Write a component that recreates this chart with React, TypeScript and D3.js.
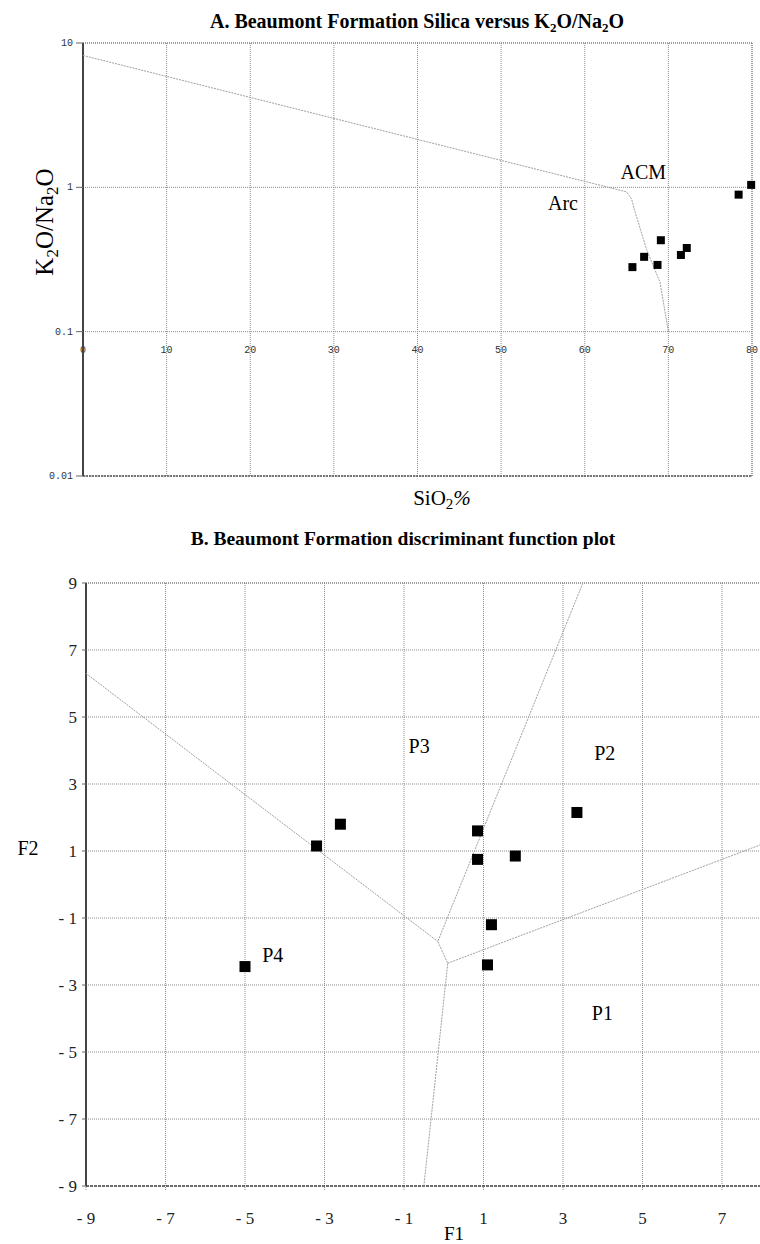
import React from 'react';
import * as d3 from 'd3';

// A. silica vs K2O/Na2O
const sio2 = [65.7, 67.1, 69.1, 68.7, 71.5, 72.2, 78.4, 79.9];
const k2oNa2o = [0.28, 0.33, 0.43, 0.29, 0.34, 0.38, 0.89, 1.04];
const arcAcmLine = [[0, 8.2], [65, 0.93], [65.6, 0.83], [66, 0.68], [67.4, 0.37], [69, 0.22], [70, 0.1]];
const silicaTicks = [0, 10, 20, 30, 40, 50, 60, 70, 80];
const ratioTicks = [10, 1, 0.1, 0.01];
const ratioTickLabels = ['10', '1', '0.1', '0.01'];
const fieldsA = [
  { name: 'ACM', x: 67, y: 1.14 },
  { name: 'Arc', x: 57.4, y: 0.7 },
];

// B. discriminant function plot
const f1 = [-5.0, -3.2, -2.6, 0.85, 0.85, 1.8, 1.2, 1.1, 3.35];
const f2 = [-2.45, 1.15, 1.8, 1.6, 0.75, 0.85, -1.2, -2.4, 2.15];
const p2p3Line = [[3.5, 9], [-0.15, -1.7], [0.1, -2.35], [-0.5, -9]];
const p3p4Line = [[-9, 6.3], [-0.15, -1.7]];
const p1p2Line = [[0.1, -2.35], [8, 1.2]];
const fTicks = [-9, -7, -5, -3, -1, 1, 3, 5, 7, 9];
const fieldsB = [
  { name: 'P3', x: -0.62, y: 3.93 },
  { name: 'P2', x: 4.05, y: 3.72 },
  { name: 'P1', x: 3.99, y: -4.04 },
  { name: 'P4', x: -4.3, y: -2.31 },
];

const serif = '"Liberation Serif", "Times New Roman", serif';
const mono = '"Liberation Mono", "Courier New", monospace';
const gridStyle = { stroke: '#8c8c8c', strokeWidth: 1, strokeDasharray: '1 1', fill: 'none' };
const lineStyle = { stroke: '#a0a0a0', strokeWidth: 1, strokeDasharray: '2 1', fill: 'none' };

const fmt = (t: number) => (t < 0 ? '- ' + Math.abs(t) : String(t));

export default function App() {
  // chart A scales
  const xA = d3.scaleLinear().domain([0, 80]).range([83, 752]);
  const yA = d3.scaleLog().domain([0.01, 10]).range([476, 43]);
  const lineA = d3.line<number[]>().x(d => xA(d[0])).y(d => yA(d[1]));

  // chart B scales (right part runs off the page, as in the scan)
  const xB = d3.scaleLinear().domain([-9, 9]).range([86, 801.5]);
  const yB = d3.scaleLinear().domain([-9, 9]).range([1186, 583]);
  const lineB = d3.line<number[]>().x(d => xB(d[0])).y(d => yB(d[1]));

  const sqA = 8;
  const sqB = 11;

  return (
    <svg width={760} height={1244} style={{ position: 'absolute', left: 0, top: 0, background: '#fff' }}>
      {/* ---------- chart A ---------- */}
      <text x={417} y={28} textAnchor="middle" fontFamily={serif} fontWeight="bold" fontSize={20}>
        A. Beaumont Formation Silica versus K<tspan fontSize={13} dy={4}>2</tspan>
        <tspan dy={-4}>O/Na</tspan><tspan fontSize={13} dy={4}>2</tspan><tspan dy={-4}>O</tspan>
      </text>

      {ratioTicks.map(t => (
        <line key={'gay' + t} x1={xA(0)} x2={xA(80)} y1={yA(t)} y2={yA(t)} style={gridStyle} />
      ))}
      {silicaTicks.map(t => (
        <line key={'gax' + t} x1={xA(t)} x2={xA(t)} y1={yA(10)} y2={yA(0.01)} style={gridStyle} />
      ))}
      {/* frame */}
      <line x1={xA(0)} x2={xA(80)} y1={yA(10)} y2={yA(10)} stroke="#777" strokeDasharray="1 1" />
      <line x1={xA(80)} x2={xA(80)} y1={yA(10)} y2={yA(0.01)} stroke="#777" strokeDasharray="1 1" />
      <line x1={xA(0)} x2={xA(80)} y1={yA(0.01)} y2={yA(0.01)} stroke="#555" strokeWidth={1.5} strokeDasharray="2 1" />

      {silicaTicks.map(t => (
        <text key={'tax' + t} x={xA(t)} y={yA(0.1) + 21} textAnchor="middle" fontFamily={mono} fontSize={10} fill="#333">
          {t}
        </text>
      ))}
      <line x1={xA(0)} x2={xA(0)} y1={yA(10)} y2={yA(0.01)} stroke="#444" strokeWidth={2} />
      {ratioTicks.map((t, i) => (
        <g key={'tay' + t}>
          <line x1={xA(0) - 7} x2={xA(0)} y1={yA(t)} y2={yA(t)} stroke="#666" />
          <text x={xA(0) - 10} y={yA(t) + 3} textAnchor="end" fontFamily={mono} fontSize={10} fill="#333">
            {ratioTickLabels[i]}
          </text>
        </g>
      ))}

      <path d={lineA(arcAcmLine) || ''} style={lineStyle} />

      {sio2.map((s, i) => (
        <rect key={'pa' + i} x={xA(s) - sqA / 2} y={yA(k2oNa2o[i]) - sqA / 2} width={sqA} height={sqA} fill="#000" />
      ))}
      {fieldsA.map(f => (
        <text key={f.name} x={xA(f.x)} y={yA(f.y)} textAnchor="middle" fontFamily={serif} fontSize={20}>
          {f.name}
        </text>
      ))}

      <text transform="translate(53,222) rotate(-90)" textAnchor="middle" fontFamily={serif} fontSize={25}>
        K<tspan fontSize={17} dy={5}>2</tspan><tspan dy={-5}>O/Na</tspan>
        <tspan fontSize={17} dy={5}>2</tspan><tspan dy={-5}>O</tspan>
      </text>
      <text x={442} y={505} textAnchor="middle" fontFamily={serif} fontSize={21}>
        SiO<tspan fontSize={15} dy={4}>2</tspan><tspan dy={-4} fontStyle="italic">%</tspan>
      </text>

      {/* ---------- chart B ---------- */}
      <text x={403} y={545} textAnchor="middle" fontFamily={serif} fontWeight="bold" fontSize={19.5}>
        B. Beaumont Formation discriminant function plot
      </text>

      {fTicks.map(t => (
        <line key={'gby' + t} x1={xB(-9)} x2={xB(9)} y1={yB(t)} y2={yB(t)} style={gridStyle} />
      ))}
      {fTicks.map(t => (
        <line key={'gbx' + t} x1={xB(t)} x2={xB(t)} y1={yB(9)} y2={yB(-9) + 5} style={gridStyle} />
      ))}
      <line x1={xB(-9)} x2={xB(9)} y1={yB(9)} y2={yB(9)} stroke="#777" strokeDasharray="1 1" />
      <line x1={xB(-9)} x2={xB(9)} y1={yB(-9)} y2={yB(-9)} stroke="#444" strokeWidth={1.5} strokeDasharray="3 1" />
      <line x1={xB(-9)} x2={xB(-9)} y1={yB(9)} y2={yB(-9)} stroke="#444" strokeWidth={2} />

      {fTicks.map(t => (
        <g key={'tby' + t}>
          <line x1={xB(-9) - 4} x2={xB(-9)} y1={yB(t)} y2={yB(t)} stroke="#666" />
          <text x={xB(-9) - 9} y={yB(t) + 6} textAnchor="end" fontFamily={serif} fontSize={17} fill="#222">
            {fmt(t)}
          </text>
        </g>
      ))}
      {fTicks.filter(t => xB(t) < 740).map(t => (
        <text key={'tbx' + t} x={xB(t)} y={1224} textAnchor="middle" fontFamily={serif} fontSize={17} fill="#222">
          {fmt(t)}
        </text>
      ))}

      <path d={lineB(p2p3Line) || ''} style={lineStyle} />
      <path d={lineB(p3p4Line) || ''} style={lineStyle} />
      <path d={lineB(p1p2Line) || ''} style={lineStyle} />

      {f1.map((v, i) => (
        <rect key={'pb' + i} x={xB(v) - sqB / 2} y={yB(f2[i]) - sqB / 2} width={sqB} height={sqB} fill="#000" />
      ))}
      {fieldsB.map(f => (
        <text key={f.name} x={xB(f.x)} y={yB(f.y)} textAnchor="middle" fontFamily={serif} fontSize={20}>
          {f.name}
        </text>
      ))}

      <text x={28} y={855} textAnchor="middle" fontFamily={serif} fontSize={20}>F2</text>
      <text x={454} y={1240} textAnchor="middle" fontFamily={serif} fontSize={19}>F1</text>
    </svg>
  );
}
